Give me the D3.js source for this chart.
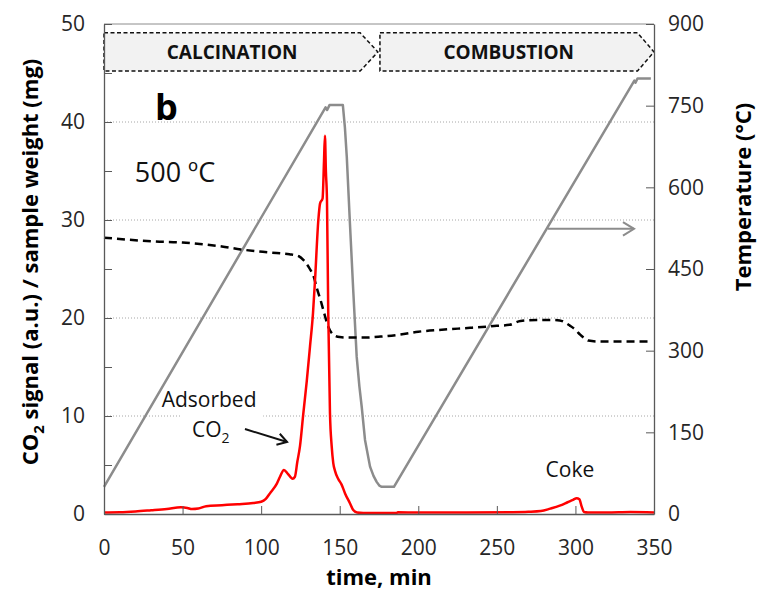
<!DOCTYPE html>
<html>
<head>
<meta charset="utf-8">
<script src="https://cdn.jsdelivr.net/npm/d3@7"></script>
<style>
  body { margin: 0; background: #fff; }
  svg text { font-family: "Open Sans", sans-serif; }
</style>
</head>
<body>
<div id="chart"></div>
<script>
// CO2 signal (left axis)
var co2Time = [0, 10, 20, 30, 40, 49, 53, 56, 60, 65, 75, 85, 95, 100, 103, 106, 110, 112, 114.5, 117, 120, 121.5, 123, 124.7, 126.8, 129, 131.1, 133, 134.3, 136.4, 137.5, 139.1, 140, 140.6, 141.2, 141.9, 142.7, 143.8, 144.9, 145.9, 147, 149, 151.2, 153.4, 156.5, 158.6, 161, 165, 175, 186, 187, 200, 230, 260, 270, 278, 284, 290, 295, 298.5, 300.8, 302.5, 304, 305.5, 308, 320, 335, 350]
var co2Signal = [0.15, 0.17, 0.25, 0.38, 0.52, 0.68, 0.62, 0.5, 0.55, 0.8, 0.9, 1.0, 1.12, 1.25, 1.55, 2.2, 3.1, 3.8, 4.5, 4.1, 3.6, 3.8, 5.3, 6.9, 10.2, 13.5, 17.1, 20.5, 23.9, 30, 31.7, 32.2, 36, 38.6, 35, 32, 20.5, 10.3, 6.9, 5.2, 4.4, 3.6, 3.0, 2.1, 1.1, 0.4, 0.15, 0.1, 0.1, 0.1, 0.18, 0.15, 0.15, 0.18, 0.22, 0.3, 0.55, 0.85, 1.2, 1.45, 1.6, 1.5, 0.75, 0.2, 0.15, 0.15, 0.2, 0.15]

// sample weight (left axis, dashed)
var weightTime = [0, 15, 33, 50, 61, 75, 87, 101, 112, 118, 124, 127, 129, 131, 133.5, 135.5, 137.5, 139.6, 142.7, 145.9, 150, 155, 165, 176, 188, 200, 215, 233, 250, 258, 265, 275, 285, 290, 296.6, 300, 303, 306, 308.2, 315, 330, 347.5]
var weightMg = [28.2, 28.0, 27.8, 27.7, 27.55, 27.3, 27.0, 26.75, 26.6, 26.5, 26.3, 25.9, 25.5, 25.0, 24.2, 23.0, 22.0, 20.8, 19.1, 18.3, 18.05, 18.0, 18.0, 18.1, 18.3, 18.6, 18.8, 19.0, 19.2, 19.3, 19.7, 19.8, 19.8, 19.75, 19.2, 18.8, 18.3, 17.9, 17.7, 17.6, 17.6, 17.6]

// temperature (right axis)
var tempTime = [0, 141, 142, 143.5, 152, 153.3, 154.5, 156.5, 158.6, 160.8, 162.5, 164, 166.1, 169.3, 171.5, 173.5, 175.3, 176.7, 184.5, 337.5, 338.2, 339.5, 348]
var tempC = [50, 747, 742, 751, 751, 710, 656, 534, 411, 289, 235, 197, 136, 87, 70, 59, 52, 50, 50, 796, 792, 800, 800]

var xTicks = [0, 50, 100, 150, 200, 250, 300, 350]
var leftTicks = [0, 5, 10, 15, 20, 25, 30, 35, 40, 45, 50]
var gridValues = [10, 20, 30, 40]
var rightTicks = [0, 150, 300, 450, 600, 750, 900]

var phaseNames = ["CALCINATION", "COMBUSTION"]
var phaseStart = [0, 175.6]
var phaseBodyEnd = [163, 339.5]
var phaseTip = [174.3, 350]

var W = 758, H = 590
var margin = {top: 24, right: 104, bottom: 76, left: 104}
var width = W - margin.left - margin.right
var height = H - margin.top - margin.bottom

var svg = d3.select("#chart").append("svg").attr("width", W).attr("height", H)
var g = svg.append("g").attr("transform", "translate(" + margin.left + "," + margin.top + ")")

var x = d3.scaleLinear().domain([0, 350]).range([0, width])
var yL = d3.scaleLinear().domain([0, 50]).range([height, 0])
var yR = d3.scaleLinear().domain([0, 900]).range([height, 0])

// dotted grid
g.selectAll(".grid").data(gridValues).enter().append("line")
  .attr("x1", 0).attr("x2", width)
  .attr("y1", function(d){ return yL(d) }).attr("y2", function(d){ return yL(d) })
  .attr("stroke", "#a6a6a6").attr("stroke-width", 1).attr("stroke-dasharray", "1,2")

// top frame
g.append("line").attr("x1", 0).attr("x2", width).attr("y1", 0).attr("y2", 0)
  .attr("stroke", "#8c8c8c").attr("stroke-width", 1)

// white boxes behind the labels
g.append("rect").attr("x", x(25)).attr("y", yL(47)).attr("width", 54).attr("height", 40).attr("fill", "#fff")
g.append("rect").attr("x", x(48.5)).attr("y", yL(13.2)).attr("width", 83).attr("height", 64).attr("fill", "#fff")

// phase banners
var bTop = yL(49.1), bBot = yL(45.2), bMid = (bTop + bBot) / 2
phaseNames.forEach(function(name, i){
  var pts = [[x(phaseStart[i]), bTop], [x(phaseBodyEnd[i]), bTop], [x(phaseTip[i]), bMid],
             [x(phaseBodyEnd[i]), bBot], [x(phaseStart[i]), bBot]]
  g.append("path").attr("d", "M" + pts.join("L") + "Z")
    .attr("fill", "#f2f2f2").attr("stroke", "#111").attr("stroke-width", 1.5)
    .attr("stroke-dasharray", "4,2.5")
  g.append("text")
    .attr("x", (x(phaseStart[i]) + x(phaseBodyEnd[i])) / 2).attr("y", bMid + 7)
    .attr("text-anchor", "middle").style("font-size", "19px").style("font-weight", "bold")
    .style("fill", "#111").text(name)
})

var lineOf = function(xs, ys, yScale, curve){
  return d3.line().curve(curve)
    .x(function(d, i){ return x(xs[i]) })
    .y(function(d, i){ return yScale(ys[i]) })(xs)
}

g.append("path").attr("d", lineOf(tempTime, tempC, yR, d3.curveLinear))
  .attr("fill", "none").attr("stroke", "#8c8c8c").attr("stroke-width", 2.5)
  .attr("stroke-linejoin", "round")

g.append("path").attr("d", lineOf(weightTime, weightMg, yL, d3.curveMonotoneX))
  .attr("fill", "none").attr("stroke", "#000").attr("stroke-width", 2.5)
  .attr("stroke-dasharray", "8,5")

g.append("path").attr("d", lineOf(co2Time, co2Signal, yL, d3.curveMonotoneX))
  .attr("fill", "none").attr("stroke", "#ff0000").attr("stroke-width", 2.5)
  .attr("stroke-linejoin", "round")

// axes
var xAxis = g.append("g").attr("transform", "translate(0," + height + ")")
  .call(d3.axisBottom(x).tickValues(xTicks).tickSizeInner(-8).tickSizeOuter(0).tickPadding(26))
var lAxis = g.append("g")
  .call(d3.axisLeft(yL).tickValues(leftTicks).tickSizeInner(-8).tickSizeOuter(0).tickPadding(19)
    .tickFormat(function(d){ return d % 10 === 0 ? d : "" }))
var rAxis = g.append("g").attr("transform", "translate(" + width + ",0)")
  .call(d3.axisRight(yR).tickValues(rightTicks).tickSizeInner(-8).tickSizeOuter(0).tickPadding(14))

;[xAxis, lAxis, rAxis].forEach(function(a){
  a.select(".domain").attr("stroke", "#595959").attr("stroke-width", 1.3)
  a.selectAll(".tick line").attr("stroke", "#595959").attr("stroke-width", 1)
  a.selectAll("text").style("font-size", "21px").style("fill", "#262626").style("font-family", "Open Sans, sans-serif")
})

// axis titles
svg.append("text").attr("x", margin.left + width / 2).attr("y", 585)
  .attr("text-anchor", "middle").style("font-size", "22px").style("font-weight", "bold")
  .text("time, min")

var lt = svg.append("text").attr("transform", "translate(38,262) rotate(-90)")
  .attr("text-anchor", "middle").style("font-size", "22px").style("font-weight", "bold")
lt.append("tspan").text("CO")
lt.append("tspan").attr("dy", 6).style("font-size", "15px").text("2")
lt.append("tspan").attr("dy", -6).text(" signal (a.u.) / sample weight (mg)")

svg.append("text").attr("transform", "translate(751,197) rotate(-90)")
  .attr("text-anchor", "middle").style("font-size", "22px").style("font-weight", "bold")
  .text("Temperature (°C)")

// annotations
g.append("text").attr("x", x(32.5)).attr("y", yL(40.2)).style("font-size", "36px")
  .style("font-weight", "bold").text("b")
g.append("text").attr("x", x(19.6)).attr("y", yL(33.9)).style("font-size", "27px")
  .style("fill", "#111").text("500 ºC")
g.append("text").attr("x", x(36.7)).attr("y", yL(10.9)).style("font-size", "21px")
  .style("fill", "#111").text("Adsorbed")
var co2t = g.append("text").attr("x", x(56)).attr("y", yL(7.9)).style("font-size", "21px").style("fill", "#111")
co2t.append("tspan").text("CO")
co2t.append("tspan").attr("dy", 6).style("font-size", "14px").text("2")
g.append("text").attr("x", x(281)).attr("y", yL(3.8)).style("font-size", "21px")
  .style("fill", "#111").text("Coke")

// arrows
var arrow = function(x1, y1, x2, y2, color, head){
  var ang = Math.atan2(y2 - y1, x2 - x1)
  g.append("line").attr("x1", x1).attr("y1", y1).attr("x2", x2).attr("y2", y2)
    .attr("stroke", color).attr("stroke-width", 2)
  var a1 = ang + Math.PI - 0.55, a2 = ang + Math.PI + 0.55
  g.append("path")
    .attr("d", "M" + (x2 + head * Math.cos(a1)) + "," + (y2 + head * Math.sin(a1)) + "L" + x2 + "," + y2 +
      "L" + (x2 + head * Math.cos(a2)) + "," + (y2 + head * Math.sin(a2)))
    .attr("fill", "none").attr("stroke", color).attr("stroke-width", 2)
}
arrow(x(89.7), yL(8.67), x(116.5), yL(7.35), "#111", 11)
arrow(x(282.5), yL(29.1), x(337.3), yL(29.1), "#8c8c8c", 13)
</script>
</body>
</html>
